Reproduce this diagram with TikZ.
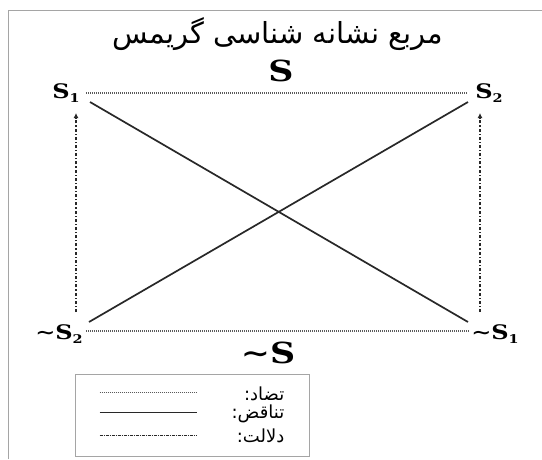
\documentclass[tikz,border=0pt]{standalone}
\usepackage{fontspec}
\newfontfamily\arabicfont[Script=Arabic]{DejaVu Sans}
\newfontfamily\termfont[FakeStretch=1.2]{DejaVu Serif}
\TeXXeTstate=1
\usetikzlibrary{arrows.meta,calc}
\definecolor{framegray}{RGB}{165,165,165}
\definecolor{linedark}{RGB}{40,40,40}
\definecolor{dotgray}{RGB}{90,90,90}
\newcommand{\subidx}[1]{\raisebox{-0.18em}{\fontsize{12}{13}\selectfont #1}}
\tikzset{
  term/.style={font=\termfont\bfseries\fontsize{20}{23}\selectfont, inner sep=0pt},
  bigterm/.style={font=\termfont\bfseries\fontsize{29}{32}\selectfont, inner sep=0pt},
  contrary/.style={draw=dotgray, line width=1.7pt, dash pattern=on 1pt off 1pt},
  contradict/.style={draw=linedark, line width=1.7pt},
  implies/.style={draw=linedark, line width=1.6pt, dash pattern=on 3pt off 2pt on 1.2pt off 2pt, -{Latex[length=5pt,width=5pt]}},
  legtext/.style={font=\arabicfont\fontsize{18}{20}\selectfont, anchor=east, inner sep=0pt},
}
\begin{document}
\begin{tikzpicture}[x=1pt,y=-1pt]
\useasboundingbox (0,0) rectangle (542,459);
% outer frame (top and left)
\draw[framegray, line width=1pt] (8,459) -- (8,10) -- (542,10);
% title
\node (title) at (278,34) {\arabicfont\fontsize{29}{33}\selectfont\beginR مربع نشانه شناسی گریمس\endR};
% corner terms
\node[term] (s1)  at (66,93)  {S\subidx{1}};
\node[term] (s2)  at (489,93) {S\subidx{2}};
\node[term] (ns2) at (59,334) {∼S\subidx{2}};
\node[term] (ns1) at (495,334) {∼S\subidx{1}};
\node[bigterm] (stop) at (281,71) {S};
\node[bigterm] (sbot) at (268,353) {∼S};
% contrary (dotted)
\draw[contrary] ($(s1)+(20,0)$) -- ($(s2)+(-21,0)$);
\draw[contrary] ($(ns2)+(27,-3)$) -- ($(ns1)+(-25,-3)$);
% contradiction (solid diagonals)
\draw[contradict] ($(s1)+(24,9)$) -- ($(ns1)+(-27,-12)$);
\draw[contradict] ($(ns2)+(30,-12)$) -- ($(s2)+(-21,9)$);
% implication (dash-dot arrows)
\draw[implies] ($(ns2)+(17,-22)$) -- ($(s1)+(10,20)$);
\draw[implies] ($(ns1)+(-15,-22)$) -- ($(s2)+(-9,20)$);
% legend
\node[draw=framegray, line width=1pt, minimum width=234pt, minimum height=82pt, inner sep=0pt] (legend) at (192,415) {};
\draw[contrary, line width=1.4pt] ($(legend.north west)+(25,19)$) -- ($(legend.north west)+(122,19)$);
\draw[contradict, line width=1.5pt] ($(legend.north west)+(25,39)$) -- ($(legend.north west)+(122,39)$);
\draw[draw=linedark, line width=1.5pt, dash pattern=on 3pt off 1pt on 1pt off 1pt] ($(legend.north west)+(25,62)$) -- ($(legend.north west)+(122,62)$);
\node[legtext] (l1) at ($(legend.north west)+(210,20)$) {\beginR تضاد:\endR};
\node[legtext] (l2) at ($(legend.north west)+(210,40)$) {\beginR تناقض:\endR};
\node[legtext] (l3) at ($(legend.north west)+(210,62)$) {\beginR دلالت:\endR};
\end{tikzpicture}
\end{document}
